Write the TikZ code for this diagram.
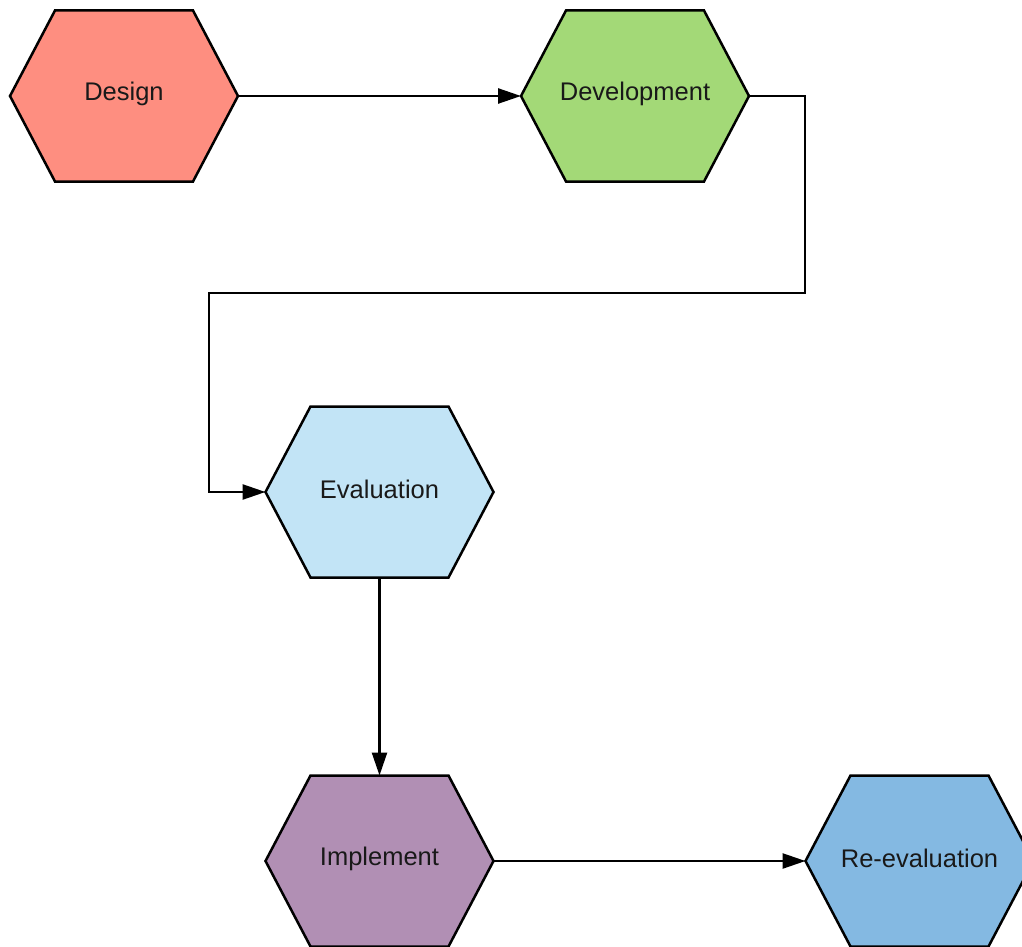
\documentclass[tikz,border=0pt]{standalone}
\usepackage{fontspec}
\setmainfont{Liberation Sans}
\usetikzlibrary{arrows.meta}
\definecolor{cDesign}{HTML}{FE8E80}
\definecolor{cDevel}{HTML}{A3D977}
\definecolor{cEval}{HTML}{C2E4F6}
\definecolor{cImpl}{HTML}{B18FB4}
\definecolor{cReev}{HTML}{84B9E2}
\tikzset{
  hexlabel/.style={minimum width=228pt, minimum height=171pt, inner sep=0pt, outer sep=0pt,
    font=\fontsize{25.5}{30}\selectfont, text=black!90},
  hexshape/.style={draw=black, line width=2.5pt, line join=miter},
  conn/.style={draw=black, line width=2.5pt, -{Triangle[length=23pt,width=15pt]}},
}
\newcommand{\myhex}[5]{%
  \path[hexshape, fill=#4] (#2-114,#3) -- (#2-69,#3-85.5) -- (#2+69,#3-85.5) -- (#2+114,#3)
     -- (#2+69,#3+85.5) -- (#2-69,#3+85.5) -- cycle;
  \node[hexlabel] (#1) at (#2,#3) {};
  \node[font=\fontsize{25.5}{30}\selectfont, text=black!90, inner sep=0pt] (#1-t) at (#2,#3-2.5) {#5};
}
\begin{document}
\begin{tikzpicture}[x=1pt, y=-1pt]
\useasboundingbox (0,0) rectangle (1022,947);
\myhex{design}{124}{96}{cDesign}{Design}
\myhex{devel}{635}{96}{cDevel}{Development}
\myhex{eval}{379.5}{492}{cEval}{Evaluation}
\myhex{impl}{379.5}{861}{cImpl}{Implement}
\myhex{reev}{919.5}{861}{cReev}{Re-evaluation}
\coordinate (c1) at (805,96);
\coordinate (c2) at (805,293);
\coordinate (c3) at (209,293);
\coordinate (c4) at (209,492);
\draw[conn] (design.east) -- (devel.west);
\draw[conn] (devel.east) -- (c1) -- (c2) -- (c3) -- (c4) -- (eval.west);
\draw[conn] (eval.south) -- (impl.north);
\draw[conn] (impl.east) -- (reev.west);
\end{tikzpicture}
\end{document}
